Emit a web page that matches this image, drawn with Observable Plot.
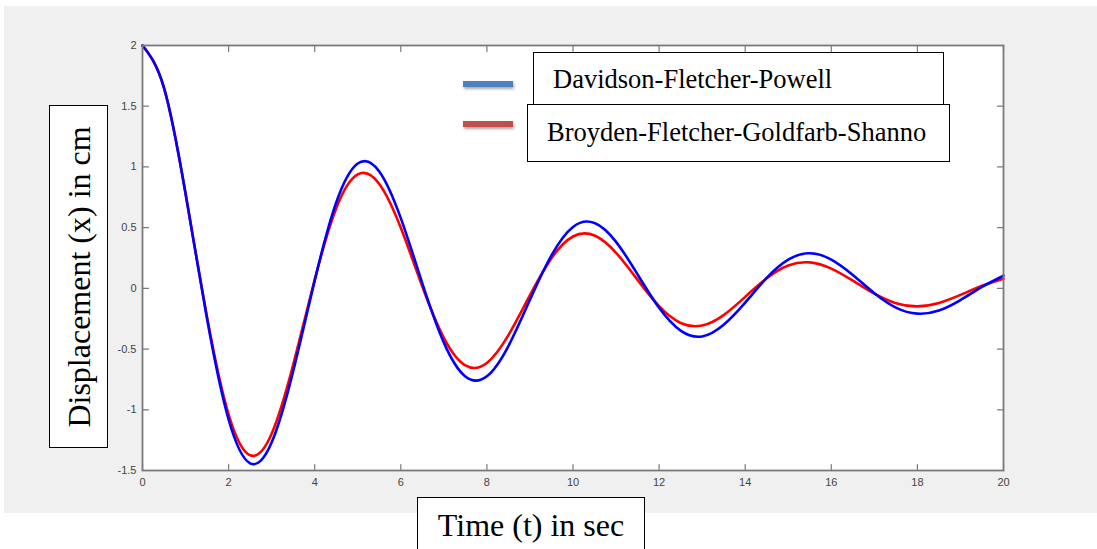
<!DOCTYPE html>
<html>
<head>
<meta charset="utf-8">
<script src="https://cdn.jsdelivr.net/npm/d3@7"></script>
<script src="https://cdn.jsdelivr.net/npm/@observablehq/plot@0.6"></script>
<style>
  html, body { margin: 0; padding: 0; background: #ffffff; }
  #wrap { position: relative; width: 1097px; height: 549px; overflow: hidden; }
  #bg { position: absolute; left: 4px; top: 6px; width: 1093px; height: 507px; background: #f0f0f0; }
  #chart { position: absolute; left: 0; top: 0; }
  .box { position: absolute; background: #ffffff; border: 1.5px solid #000; box-sizing: border-box; }
  .serif { font-family: "Liberation Serif", "Times New Roman", serif; color: #000; white-space: nowrap; }
  .swatch { position: absolute; height: 6px; box-shadow: 1px 2px 3px rgba(0,0,0,0.35); }
</style>
</head>
<body>
<div id="wrap">
  <div id="bg"></div>
  <div id="chart"></div>
</div>
<script>
const time = [0, 0.5, 1, 1.5, 2, 2.5, 3, 3.5, 4, 4.5, 5, 5.5, 6, 6.5, 7, 7.5, 8, 8.5, 9, 9.5, 10, 10.5, 11, 11.5, 12, 12.5, 13, 13.5, 14, 14.5, 15, 15.5, 16, 16.5, 17, 17.5, 18, 18.5, 19, 19.5, 20];
const dfpValues = [2.000, 1.652, 0.781, -0.253, -1.080, -1.441, -1.270, -0.682, 0.064, 0.707, 1.028, 0.963, 0.578, 0.041, -0.447, -0.726, -0.724, -0.475, -0.094, 0.272, 0.506, 0.538, 0.383, 0.115, -0.160, -0.348, -0.396, -0.300, -0.118, 0.086, 0.236, 0.289, 0.236, 0.109, -0.040, -0.158, -0.208, -0.182, -0.096, 0.012, 0.104];
const bfgsValues = [2.000, 1.649, 0.781, -0.237, -1.038, -1.375, -1.197, -0.630, 0.072, 0.660, 0.938, 0.860, 0.499, 0.015, -0.408, -0.635, -0.614, -0.385, -0.056, 0.248, 0.427, 0.435, 0.293, 0.070, -0.147, -0.285, -0.306, -0.220, -0.070, 0.083, 0.188, 0.214, 0.163, 0.063, -0.044, -0.122, -0.148, -0.120, -0.054, 0.021, 0.080];
const xTicks = [0, 2, 4, 6, 8, 10, 12, 14, 16, 18, 20];
const yTicks = [-1.5, -1, -0.5, 0, 0.5, 1, 1.5, 2];
const seriesNames = ["Davidson-Fletcher-Powell", "Broyden-Fletcher-Goldfarb-Shanno"];
const xLabel = "Time (t) in sec";
const yLabel = "Displacement (x) in cm";

const dfp = time.map((t, i) => ({t, v: dfpValues[i]}));
const bfgs = time.map((t, i) => ({t, v: bfgsValues[i]}));
const xDomain = [0, 20];
const yDomain = [-1.5, 2];

const tickShape = { draw(context, l) { context.moveTo(0, 0); context.lineTo(0, -l); } };
const axisGray = "#7a7a7a";

const plot = Plot.plot({
  width: 1097,
  height: 549,
  marginLeft: 142,
  marginRight: 94,
  marginTop: 45,
  marginBottom: 79,
  style: { background: "transparent", fontFamily: "'Liberation Sans', Arial, sans-serif" },
  x: { domain: xDomain },
  y: { domain: yDomain },
  marks: [
    Plot.frame({ fill: "white", stroke: null }),
    Plot.line(bfgs, { x: "t", y: "v", stroke: "#ff0000", strokeWidth: 2.6, curve: "natural" }),
    Plot.line(dfp, { x: "t", y: "v", stroke: "#0000ff", strokeWidth: 2.6, curve: "natural" }),
    // inward ticks on all four sides
    Plot.vector(xTicks, { x: d => d, y: yDomain[0], length: 6, rotate: 0, anchor: "start", shape: tickShape, stroke: axisGray, strokeWidth: 1.2 }),
    Plot.vector(xTicks, { x: d => d, y: yDomain[1], length: 6, rotate: 180, anchor: "start", shape: tickShape, stroke: axisGray, strokeWidth: 1.2 }),
    Plot.vector(yTicks, { x: xDomain[0], y: d => d, length: 6, rotate: 90, anchor: "start", shape: tickShape, stroke: axisGray, strokeWidth: 1.2 }),
    Plot.vector(yTicks, { x: xDomain[1], y: d => d, length: 6, rotate: -90, anchor: "start", shape: tickShape, stroke: axisGray, strokeWidth: 1.2 }),
    Plot.axisX({ ticks: xTicks, tickSize: 0, tickPadding: 8, tickFormat: d => String(d), fontSize: 11, fill: "#444", label: null }),
    Plot.axisY({ ticks: yTicks, tickSize: 0, tickPadding: 6, tickFormat: d => String(d), fontSize: 11, fill: "#444", label: null }),
    Plot.frame({ stroke: axisGray, strokeWidth: 1.8 })
  ]
});
document.getElementById("chart").appendChild(plot);

const wrap = document.getElementById("wrap");
function addEl(html) {
  const d = document.createElement("div");
  d.innerHTML = html;
  const el = d.firstElementChild;
  wrap.appendChild(el);
  return el;
}

// y label box
addEl(`<div class="box" style="left:49px;top:105px;width:59px;height:343px;"></div>`);
addEl(`<div class="serif" style="position:absolute;left:79px;top:277px;font-size:32px;line-height:32px;transform:translate(-50%,-50%) rotate(-90deg);">${yLabel}</div>`);

// x label box
addEl(`<div class="box" style="left:417px;top:497px;width:228px;height:70px;"></div>`);
addEl(`<div class="serif" style="position:absolute;left:531px;top:509px;font-size:32px;line-height:32px;transform:translateX(-50%);">${xLabel}</div>`);

// legend
addEl(`<div class="swatch" style="left:463px;top:81px;width:50px;background:#4f81bd;"></div>`);
addEl(`<div class="swatch" style="left:463px;top:121px;width:50px;background:#c0504d;"></div>`);
addEl(`<div class="box" style="left:533px;top:52px;width:411px;height:53px;"></div>`);
addEl(`<div class="box" style="left:527px;top:104px;width:423px;height:58px;"></div>`);
addEl(`<div class="serif" style="position:absolute;left:553px;top:64px;font-size:26.5px;line-height:30px;">${seriesNames[0]}</div>`);
addEl(`<div class="serif" style="position:absolute;left:547px;top:117px;font-size:26.5px;line-height:30px;">${seriesNames[1]}</div>`);
</script>
</body>
</html>
